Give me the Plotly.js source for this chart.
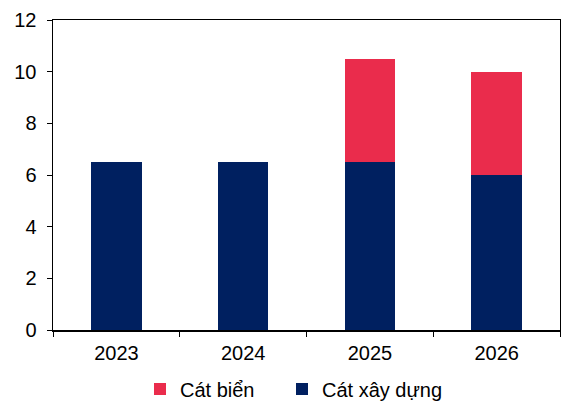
<!DOCTYPE html>
<html>
<head>
<meta charset="utf-8">
<script src="https://cdn.plot.ly/plotly-3.0.1.min.js"></script>
<style>html,body{margin:0;padding:0;background:#fff;}#chart{width:561px;height:401px;}</style>
</head>
<body>
<div id="chart"></div>
<script>
const years = ["2023", "2024", "2025", "2026"];
const catXayDung = [6.5, 6.5, 6.5, 6.0];
const catBien = [0, 0, 4.0, 4.0];
const seriesNames = ["Cát xây dựng", "Cát biển"];
const yTicks = [0, 2, 4, 6, 8, 10, 12];

const FONT = "Liberation Sans, Arial, sans-serif";

const traces = [
  {
    type: "bar", x: years, y: catXayDung, name: seriesNames[0],
    marker: {color: "#002060", line: {width: 0}}, width: 0.4, hoverinfo: "none"
  },
  {
    type: "bar", x: years, y: catBien, name: seriesNames[1], legendwidth: 97,
    marker: {color: "#EA2C4C", line: {width: 0}}, width: 0.4, hoverinfo: "none"
  }
];

const layout = {
  width: 561, height: 401,
  margin: {l: 53, r: 1, t: 20, b: 71, pad: 0, autoexpand: false},
  barmode: "stack",
  paper_bgcolor: "#fff", plot_bgcolor: "#fff",
  font: {family: FONT, size: 20, color: "#000"},
  showlegend: true,
  xaxis: {
    type: "category", showline: true, mirror: true, linecolor: "#000", linewidth: 1.5,
    ticks: "outside", tickson: "boundaries", ticklen: 5, tickcolor: "#000", tickwidth: 1,
    ticklabelstandoff: 4,
    showgrid: false, zeroline: false, automargin: false,
    tickfont: {family: FONT, size: 20, color: "#000"}
  },
  yaxis: {
    range: [0, 12], tickvals: yTicks, ticktext: yTicks.map(String),
    showline: true, mirror: true, linecolor: "#000", linewidth: 1.5,
    ticks: "outside", ticklen: 5, tickcolor: "#000", tickwidth: 1, ticklabelstandoff: 6,
    showgrid: false, zeroline: false, automargin: false,
    tickfont: {family: FONT, size: 20, color: "#000"}
  },
  legend: {
    orientation: "h", traceorder: "reversed",
    x: 0.1716, xanchor: "left", y: -0.19, yanchor: "middle",
    font: {family: FONT, size: 20, color: "#000"}, bgcolor: "rgba(0,0,0,0)"
  }
};

Plotly.newPlot("chart", traces, layout, {staticPlot: true, displayModeBar: false});
</script>
</body>
</html>
